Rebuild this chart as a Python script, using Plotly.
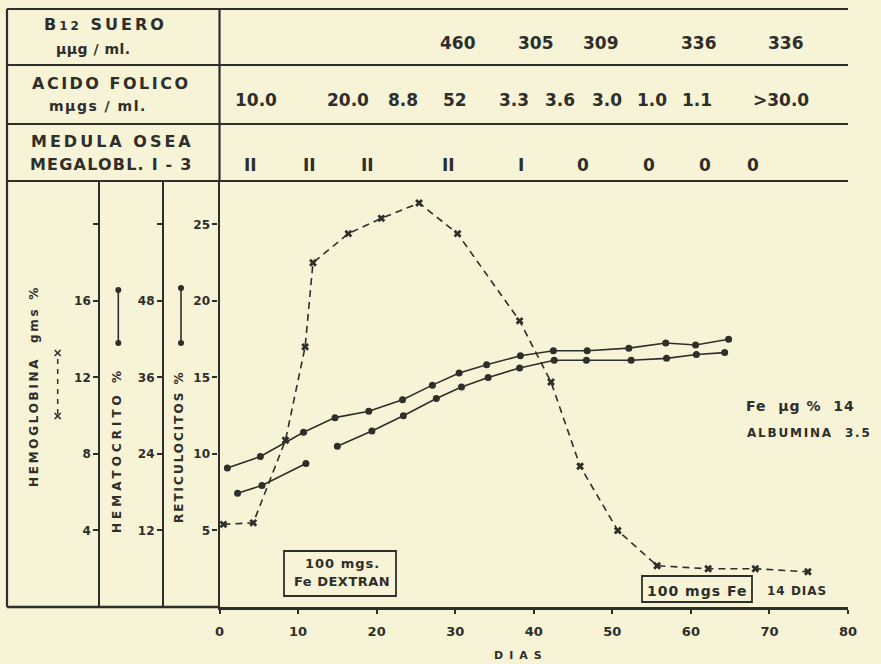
import plotly.graph_objects as go

# ---------------- data ----------------
# Reticulocitos % (dashed line, x markers)
ret_days = [0.5, 4.3, 8.4, 10.9, 11.9, 16.4, 20.6, 25.4, 30.3, 38.2, 42.2, 45.9, 50.7, 55.7, 62.2, 68.2, 74.9]
ret_vals = [5.4, 5.5, 10.9, 17.0, 22.5, 24.4, 25.4, 26.4, 24.4, 18.7, 14.7, 9.2, 5.0, 2.7, 2.5, 2.5, 2.3]

# Hematocrito % (upper solid line, dots)
hct_days = [1.0, 5.2, 10.7, 14.7, 19.0, 23.3, 27.1, 30.5, 34.0, 38.3, 42.5, 46.8, 52.1, 56.8, 60.6, 64.8]
hct_vals = [21.8, 23.6, 27.4, 29.7, 30.7, 32.5, 34.8, 36.7, 38.0, 39.4, 40.2, 40.2, 40.6, 41.4, 41.1, 42.0]

# Hemoglobina gms % (lower solid line, dots) - None = break in line
hb_days = [2.3, 5.4, 11.0, None, 15.0, 19.4, 23.4, 27.6, 30.8, 34.2, 38.2, 42.6, 46.7, 52.4, 56.9, 60.7, 64.3]
hb_vals = [5.95, 6.35, 7.5, None, 8.4, 9.2, 10.0, 10.9, 11.5, 12.0, 12.5, 12.9, 12.9, 12.9, 13.0, 13.2, 13.3]

# Table rows
b12_days = [30.4, 40.3, 48.6, 61.0, 72.1]
b12_text = ["460", "305", "309", "336", "336"]
folic_days = [4.6, 16.4, 23.4, 30.0, 37.5, 43.4, 49.3, 55.1, 60.8, 71.5]
folic_text = ["10.0", "20.0", "8.8", "52", "3.3", "3.6", "3.0", "1.0", "1.1", ">30.0"]
medula_days = [3.9, 11.4, 18.9, 29.2, 38.4, 46.3, 54.7, 61.8, 67.9]
medula_text = ["II", "II", "II", "II", "I", "0", "0", "0", "0"]

x_ticks = [0, 10, 20, 30, 40, 50, 60, 70, 80]
ret_ticks = [5, 10, 15, 20, 25]
hb_ticks = [4, 8, 12, 16, 20]
hb_ticktext = ["4", "8", "12", "16", ""]
hct_ticks = [12, 24, 36, 48, 60]
hct_ticktext = ["12", "24", "36", "48", ""]

# ---------------- layout helpers ----------------
W, H = 881, 664
ML, MR, MT, MB = 7, 33, 9, 57
PW, PH = W - ML - MR, H - MT - MB
INK = "#2e2e2a"
BG = "#f7f3d7"
FONT = "DejaVu Sans"


def px(x):
    return (x - ML) / PW


def py(y):
    return (H - MB - y) / PH


RMAX = 27.84  # reticulocyte scale top
Y_TOP = py(181)

fig = go.Figure()

fig.add_trace(go.Scatter(
    x=ret_days, y=ret_vals, mode="lines+markers", name="Reticulocitos %",
    line=dict(color=INK, width=1.6, dash="7px,5px"),
    marker=dict(symbol="x", size=7, color=INK), yaxis="y"))
fig.add_trace(go.Scatter(
    x=hct_days, y=hct_vals, mode="lines+markers", name="Hematocrito %",
    line=dict(color=INK, width=1.6),
    marker=dict(symbol="circle", size=7, color=INK), yaxis="y3"))
fig.add_trace(go.Scatter(
    x=hb_days, y=hb_vals, mode="lines+markers", name="Hemoglobina gms %",
    line=dict(color=INK, width=1.6), connectgaps=False,
    marker=dict(symbol="circle", size=7, color=INK), yaxis="y2"))

tickfont = dict(family=FONT, size=12, color=INK, weight="bold")
common_y = dict(showgrid=False, zeroline=False, showline=True, linewidth=2.2,
                linecolor=INK, ticks="outside", ticklen=5, tickwidth=1.5,
                tickcolor=INK, tickfont=tickfont, fixedrange=True, automargin=False)

fig.update_layout(
    width=W, height=H, showlegend=False,
    margin=dict(l=ML, r=MR, t=MT, b=MB, autoexpand=False),
    paper_bgcolor=BG, plot_bgcolor=BG,
    xaxis=dict(domain=[px(219.5), 1], range=[0, 80], tickvals=x_ticks,
               showgrid=False, zeroline=False, showline=True, linewidth=2.5,
               linecolor=INK, ticks="outside", ticklen=4, tickwidth=1.5,
               tickcolor=INK, ticklabelstandoff=7, automargin=False, fixedrange=True,
               tickfont=dict(family=FONT, size=13, color=INK, weight="bold")),
    yaxis=dict(domain=[0, Y_TOP], range=[0, RMAX], tickvals=ret_ticks,
               anchor="x", **common_y),
    yaxis2=dict(range=[0, 0.8 * RMAX], tickvals=hb_ticks, ticktext=hb_ticktext,
                overlaying="y", anchor="free", position=px(99.3), side="left",
                **common_y),
    yaxis3=dict(range=[0, 2.4 * RMAX], tickvals=hct_ticks, ticktext=hct_ticktext,
                overlaying="y", anchor="free", position=px(163), side="left",
                **common_y),
)

# ---------------- frame / table lines ----------------
shapes = []
lw = 2.2
for yy in [9, 65, 124, 181]:
    shapes.append(dict(type="line", xref="paper", yref="paper", x0=0, x1=1,
                       y0=py(yy), y1=py(yy), line=dict(color=INK, width=lw)))
shapes.append(dict(type="line", xref="paper", yref="paper", x0=0, x1=0,
                   y0=0, y1=1, line=dict(color=INK, width=lw)))
shapes.append(dict(type="line", xref="paper", yref="paper", x0=px(219.5), x1=px(219.5),
                   y0=Y_TOP, y1=1, line=dict(color=INK, width=lw)))
shapes.append(dict(type="line", xref="paper", yref="paper", x0=0, x1=px(219.5),
                   y0=0, y1=0, line=dict(color=INK, width=2.5)))
# boxes
shapes.append(dict(type="rect", xref="paper", yref="paper", x0=px(284), x1=px(396),
                   y0=py(596), y1=py(551), line=dict(color=INK, width=1.8)))
shapes.append(dict(type="rect", xref="paper", yref="paper", x0=px(642), x1=px(752),
                   y0=py(602), y1=py(576), line=dict(color=INK, width=1.8)))


# legend keys
def xmark(cx, cy, s=3):
    return [dict(type="line", xref="paper", yref="paper", x0=px(cx - s), x1=px(cx + s),
                 y0=py(cy - s), y1=py(cy + s), line=dict(color=INK, width=1.6)),
            dict(type="line", xref="paper", yref="paper", x0=px(cx - s), x1=px(cx + s),
                 y0=py(cy + s), y1=py(cy - s), line=dict(color=INK, width=1.6))]


shapes.append(dict(type="line", xref="paper", yref="paper", x0=px(57.7), x1=px(57.7),
                   y0=py(414), y1=py(355), line=dict(color=INK, width=1.5, dash="5px,5px")))
shapes += xmark(57.7, 353) + xmark(57.7, 416)


def dotkey(cx, y0, y1):
    out = [dict(type="line", xref="paper", yref="paper", x0=px(cx), x1=px(cx),
                y0=py(y1), y1=py(y0), line=dict(color=INK, width=1.6))]
    for yy in (y0, y1):
        out.append(dict(type="circle", xref="paper", yref="paper",
                        x0=px(cx - 3), x1=px(cx + 3), y0=py(yy + 3), y1=py(yy - 3),
                        fillcolor=INK, line=dict(color=INK, width=0)))
    return out


shapes += dotkey(118.3, 290, 343) + dotkey(181, 288, 343)
fig.update_layout(shapes=shapes)

# ---------------- text ----------------
ann = []


def txt(x, y, s, size=15, angle=0, spacing=0, xref="paper", xanchor="center"):
    if spacing:
        s = f"<span style='letter-spacing:{spacing}px'>{s}</span>"
    ann.append(dict(x=px(x) if xref == "paper" else x, y=py(y), xref=xref, yref="paper",
                    text=s, showarrow=False, textangle=angle, xanchor=xanchor,
                    yanchor="middle",
                    font=dict(family=FONT, size=size, color=INK, weight="bold")))


# left table column
txt(105, 25, "B<span style='font-size:12px'>12</span> SUERO", 16, spacing=3)
txt(93, 49, "μμg / ml.", 14, spacing=0.5)
txt(111, 83, "ACIDO FOLICO", 16, spacing=2.5)
txt(98, 106, "mμgs / ml.", 14, spacing=1.5)
txt(112, 142, "MEDULA OSEA", 16, spacing=3)
txt(111, 164, "MEGALOBL. I - 3", 16, spacing=1.2)

for d, s in zip(b12_days, b12_text):
    txt(d, 43, s, 17, xref="x")
for d, s in zip(folic_days, folic_text):
    txt(d, 100, s, 17, xref="x")
for d, s in zip(medula_days, medula_text):
    txt(d, 165, s, 17, xref="x")

# axis titles
txt(34, 386, "HEMOGLOBINA  gms %", 12, angle=-90, spacing=2.7)
txt(117, 450, "HEMATOCRITO %", 12, angle=-90, spacing=4)
txt(179, 447, "RETICULOCITOS %", 12, angle=-90, spacing=2)

# notes
txt(342, 563, "100 mgs.", 13, spacing=1)
txt(342, 581, "Fe DEXTRAN", 13, spacing=0.5)
txt(697, 591, "100 mgs Fe", 14, spacing=1)
txt(797, 591, "14 DIAS", 12, spacing=1)
txt(800, 406, "Fe  μg %  14", 14, spacing=1)
txt(809, 433, "ALBUMINA  3.5", 12, spacing=1.8)
txt(521, 655, "DIAS", 11, spacing=6)

fig.update_layout(annotations=ann)
fig.write_html(
    "out.html",
    config={"displayModeBar": False},
    post_script="document.body.style.margin='0';document.body.style.background='" + BG + "';",
)
